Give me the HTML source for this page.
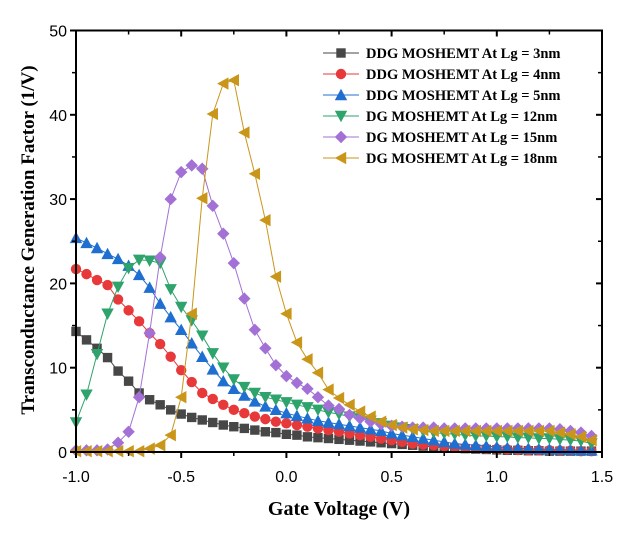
<!DOCTYPE html>
<html><head><meta charset="utf-8"><style>
html,body{margin:0;padding:0;background:#fff;}
svg text{font-family:"Liberation Sans",Arial,sans-serif;}
.serif{font-family:"Liberation Serif","Times New Roman",serif;font-weight:bold;}
</style></head><body>
<svg id="chart" width="628" height="536" viewBox="0 0 628 536" xmlns="http://www.w3.org/2000/svg">
<rect width="628" height="536" fill="#fff"/>
<g id="marks"></g>
<g id="axes"></g>
<text class="serif" x="339" y="515" font-size="20" text-anchor="middle">Gate Voltage (V)</text>
<text class="serif" transform="translate(34,240) rotate(-90)" font-size="19" text-anchor="middle">Transconductance Generation Factor (1/V)</text>
<g id="legend"></g>
</svg>
<script>
const xStart = -1.0, xStep = 0.05;
const seriesNames = ["DDG MOSHEMT At Lg = 3nm","DDG MOSHEMT At Lg = 4nm","DDG MOSHEMT At Lg = 5nm","DG MOSHEMT At Lg = 12nm","DG MOSHEMT At Lg = 15nm","DG MOSHEMT At Lg = 18nm"];
const seriesColors = ["#474747","#e8393a","#1f6fd0","#2ea36b","#a371d6","#c9961a"];
const seriesMarkers = ["square","circle","up","down","diamond","left"];
const lg3 = [14.3,13.3,12.3,11.2,9.6,8.4,7.0,6.2,5.6,5.0,4.5,4.1,3.8,3.5,3.2,3.0,2.8,2.6,2.4,2.3,2.1,2.0,1.8,1.7,1.6,1.5,1.4,1.3,1.2,1.1,1.0,0.9,0.8,0.7,0.6,0.5,0.45,0.4,0.35,0.3,0.25,0.2,0.2,0.15,0.15,0.1,0.1,0.1,0.1,0.1];
const lg4 = [21.7,21.1,20.4,19.8,18.1,16.8,15.5,14.1,12.8,11.3,9.7,8.3,7.0,6.3,5.6,5.0,4.6,4.2,3.9,3.6,3.4,3.2,3.0,2.8,2.6,2.4,2.2,2.0,1.8,1.6,1.4,1.2,1.0,0.9,0.8,0.7,0.6,0.5,0.45,0.4,0.35,0.3,0.25,0.2,0.2,0.2,0.15,0.15,0.1,0.1];
const lg5 = [25.4,24.8,24.2,23.5,22.9,22.1,21.0,19.5,17.6,16.0,14.5,12.9,11.3,9.8,8.4,7.5,6.7,6.0,5.4,5.0,4.6,4.3,4.0,3.7,3.5,3.3,3.1,2.9,2.7,2.5,2.2,2.0,1.8,1.6,1.4,1.2,1.0,0.9,0.8,0.7,0.6,0.5,0.45,0.4,0.35,0.3,0.3,0.25,0.2,0.2];
const lg12 = [3.5,6.8,11.6,16.4,19.6,21.8,22.8,22.7,22.4,19.3,17.2,15.6,13.8,11.7,10.0,8.6,7.7,7.0,6.5,6.2,5.9,5.6,5.3,5.0,4.7,4.5,4.2,4.0,3.7,3.4,3.1,2.9,2.7,2.5,2.3,2.2,2.1,2.0,1.9,1.9,1.8,1.8,1.7,1.7,1.6,1.6,1.5,1.4,1.3,1.0];
const lg15 = [0.2,0.2,0.2,0.3,1.1,2.4,6.5,14.1,23.1,30.0,33.2,34.0,33.6,29.2,25.9,22.4,18.2,14.5,12.3,10.3,9.0,8.2,7.5,6.5,5.5,5.1,4.4,4.0,3.6,3.3,3.1,3.0,2.9,2.9,2.9,2.8,2.8,2.8,2.8,2.8,2.8,2.8,2.8,2.8,2.8,2.8,2.7,2.5,2.3,1.9];
const lg18 = [0.1,0.1,0.1,0.1,0.1,0.1,0.1,0.4,0.8,2.0,6.5,16.4,30.1,40.1,43.7,44.1,37.9,33.0,27.5,20.8,16.4,13.0,11.0,9.4,7.4,6.4,5.6,4.8,4.2,3.6,3.2,2.9,2.7,2.6,2.5,2.5,2.5,2.5,2.5,2.5,2.5,2.5,2.5,2.5,2.5,2.5,2.3,2.1,1.8,1.4];
const allSeries = [lg3,lg4,lg5,lg12,lg15,lg18];
const xTicks = [-1.0,-0.5,0.0,0.5,1.0,1.5];
const yTicks = [0,10,20,30,40,50];

const X0=76,X1=602,Y0=452,Y1=30.5;
const xs = v => X0 + (v - (-1.0)) / 2.5 * (X1 - X0);
const ys = v => Y0 - v / 50 * (Y0 - Y1);
const NS="http://www.w3.org/2000/svg";
function mk(tag, attrs, parent){const e=document.createElementNS(NS,tag);for(const k in attrs)e.setAttribute(k,attrs[k]);parent.appendChild(e);return e;}
function marker(type,cx,cy,color,parent){
  const s=5.2;let e;
  if(type==="square") e=mk("rect",{x:cx-s+0.5,y:cy-s+0.5,width:2*s-1,height:2*s-1,fill:color},parent);
  else if(type==="circle") e=mk("circle",{cx:cx,cy:cy,r:s,fill:color},parent);
  else {
    let p;
    if(type==="up") p=[[cx,cy-s-1],[cx+s+1,cy+s],[cx-s-1,cy+s]];
    else if(type==="down") p=[[cx,cy+s+1],[cx+s+1,cy-s],[cx-s-1,cy-s]];
    else if(type==="diamond") p=[[cx,cy-s-1],[cx+s+1,cy],[cx,cy+s+1],[cx-s-1,cy]];
    else p=[[cx-s-1,cy],[cx+s,cy-s-1],[cx+s,cy+s+1]];
    e=mk("polygon",{points:p.map(q=>q.join(",")).join(" "),fill:color},parent);
  }
  return e;
}
const marks=document.getElementById("marks");
allSeries.forEach((data,si)=>{
  const g=mk("g",{},marks);
  
  
  const pts=data.map((v,i)=>xs(xStart+i*xStep).toFixed(1)+","+ys(v).toFixed(1)).join(" ");
  const line=mk("polyline",{points:pts,fill:"none",stroke:seriesColors[si],"stroke-width":1},g);
  
  
  data.forEach((v,i)=>{
    const m=marker(seriesMarkers[si],xs(xStart+i*xStep),ys(v),seriesColors[si],g);
    
    
  });
});
const axes=document.getElementById("axes");
const frame=mk("rect",{x:X0,y:Y1,width:X1-X0,height:Y0-Y1,fill:"none",stroke:"#000","stroke-width":2},axes);


xTicks.forEach((t,i)=>{
  const x=xs(t);
  mk("line",{x1:x,y1:Y0,x2:x,y2:Y0+6,stroke:"#000","stroke-width":2},axes);
  mk("line",{x1:x,y1:Y1,x2:x,y2:Y1+6,stroke:"#000","stroke-width":2},axes);
  if(i<xTicks.length-1){const xm=xs(t+0.25);
    mk("line",{x1:xm,y1:Y0,x2:xm,y2:Y0+4,stroke:"#000","stroke-width":1.5},axes);
    mk("line",{x1:xm,y1:Y1,x2:xm,y2:Y1+4,stroke:"#000","stroke-width":1.5},axes);}
  const lb=mk("text",{x:x,y:482,"font-size":16,"text-anchor":"middle"},axes);
  lb.textContent=t.toFixed(1);
  
  
});
yTicks.forEach((t,i)=>{
  const y=ys(t);
  mk("line",{x1:X0,y1:y,x2:X0-6,y2:y,stroke:"#000","stroke-width":2},axes);
  mk("line",{x1:X1,y1:y,x2:X1-6,y2:y,stroke:"#000","stroke-width":2},axes);
  if(i<yTicks.length-1){const ym=ys(t+5);
    mk("line",{x1:X0,y1:ym,x2:X0-4,y2:ym,stroke:"#000","stroke-width":1.5},axes);
    mk("line",{x1:X1,y1:ym,x2:X1-4,y2:ym,stroke:"#000","stroke-width":1.5},axes);}
  const lb=mk("text",{x:X0-9,y:y+6,"font-size":16,"text-anchor":"end"},axes);
  lb.textContent=String(t);
  
  
});
const legend=document.getElementById("legend");


seriesNames.forEach((n,i)=>{
  const y=53+i*21;
  const g=mk("g",{},legend);
  
  
  mk("line",{x1:323,y1:y,x2:359,y2:y,stroke:seriesColors[i],"stroke-width":1},g);
  marker(seriesMarkers[i],341,y,seriesColors[i],g);
  const t=mk("text",{x:366,y:y+5,"font-size":14.5,"class":"serif"},g);
  t.textContent=n;
});
</script>
</body></html>
